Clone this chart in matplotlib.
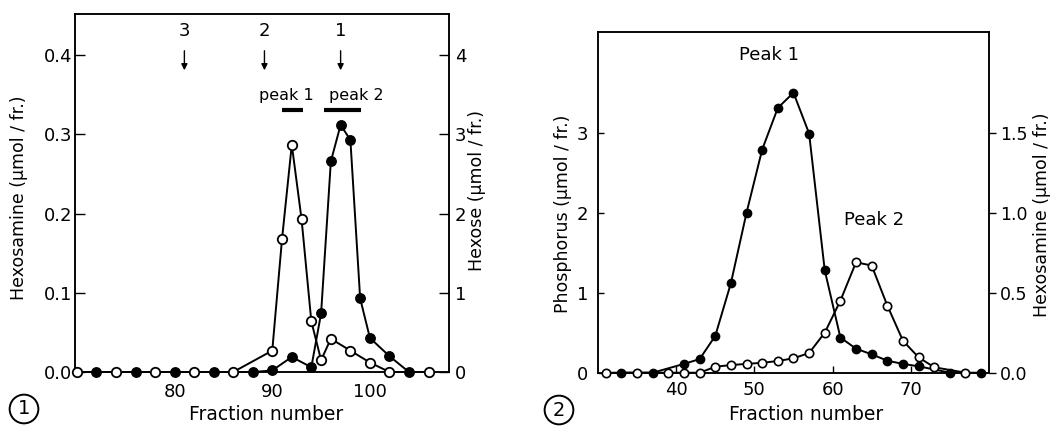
import matplotlib
matplotlib.use("Agg")
import matplotlib.pyplot as plt

plt.rcParams['font.family'] = ['DejaVu Sans']

# ---- Fig. 1 : hexosamine (open) / hexose (filled) ----
f1_open_x = [70, 74, 78, 82, 86, 90, 91, 92, 93, 94, 95, 96, 98, 100, 102, 106]
f1_open_hexosamine = [0, 0, 0, 0, 0, 0.027, 0.168, 0.287, 0.193, 0.064, 0.015,
                      0.042, 0.027, 0.012, 0.0, 0]
f1_filled_x = [72, 76, 80, 84, 88, 90, 92, 94, 95, 96, 97, 98, 99, 100, 102, 104]
f1_filled_hexose = [0, 0, 0, 0, 0, 0.02, 0.19, 0.06, 0.74, 2.66, 3.12, 2.93,
                    0.93, 0.43, 0.2, 0]
f1_markers = ["3", "2", "1"]
f1_marker_x = [81, 89.2, 97]

# ---- Fig. 2 : phosphorus (filled) / hexosamine (open) ----
f2_filled_x = [33, 37, 41, 43, 45, 47, 49, 51, 53, 55, 57, 59, 61, 63, 65, 67,
               69, 71, 75, 79]
f2_filled_phosphorus = [0, 0, 0.11, 0.17, 0.46, 1.12, 2.0, 2.79, 3.31, 3.5,
                        2.99, 1.28, 0.44, 0.3, 0.23, 0.15, 0.11, 0.08, 0, 0]
f2_open_x = [31, 35, 39, 41, 43, 45, 47, 49, 51, 53, 55, 57, 59, 61, 63, 65, 67,
             69, 71, 73, 77]
f2_open_hexosamine = [0, 0, 0, 0, 0, 0.037, 0.048, 0.055, 0.062, 0.073, 0.09,
                      0.123, 0.25, 0.45, 0.69, 0.67, 0.42, 0.2, 0.096, 0.034, 0]

fig = plt.figure(figsize=(10.55, 4.28), dpi=100)

# ---------------- panel 1 ----------------
ax1 = fig.add_axes([0.0711, 0.1308, 0.3545, 0.8364])
ax1r = ax1.twinx()
ax1.set_xlim(69.8, 108.1)
ax1.set_ylim(0, 0.452)
ax1r.set_ylim(0, 4.52)

ms1 = 6.8
ax1r.plot(f1_filled_x, f1_filled_hexose, '-o', color='k', lw=1.4, ms=ms1,
          mfc='k', mec='k', clip_on=False, zorder=3)
ax1.plot(f1_open_x, f1_open_hexosamine, '-o', color='k', lw=1.4, ms=ms1,
         mfc='white', mec='k', mew=1.3, clip_on=False, zorder=4)
ax1.set_zorder(ax1r.get_zorder() + 1)
ax1.patch.set_visible(False)

ax1.set_xticks([80, 90, 100])
ax1.set_yticks([0.0, 0.1, 0.2, 0.3, 0.4])
ax1.set_yticklabels(["0.0", "0.1", "0.2", "0.3", "0.4"])
ax1r.set_yticks([0, 1, 2, 3, 4])
ax1.tick_params(axis='x', length=0, pad=8, labelsize=13)
ax1.tick_params(axis='y', direction='in', length=7, width=1, pad=2, labelsize=13)
ax1r.tick_params(axis='y', direction='in', length=7, width=1, pad=4, labelsize=13)

ax1.set_xlabel("Fraction number", fontsize=13.5, va='center')
ax1.xaxis.set_label_coords(0.51, -0.12)
ax1.set_ylabel("Hexosamine (μmol / fr.)", fontsize=12.5, va='center')
ax1.yaxis.set_label_coords(-0.150, 0.487)
ax1r.set_ylabel("Hexose (μmol / fr.)", fontsize=12.5, va='center')
ax1r.yaxis.set_label_coords(1.075, 0.508)

for lab, x in zip(f1_markers, f1_marker_x):
    ax1.annotate(lab, xy=(x, 0.381), xytext=(x, 0.431), ha='center', va='center',
                 fontsize=13,
                 arrowprops=dict(arrowstyle='-|>', color='k', lw=1,
                                 mutation_scale=9, shrinkA=6, shrinkB=0))

ax1.text(91.4, 0.349, "peak 1", ha='center', va='center', fontsize=11.5)
ax1.text(98.6, 0.349, "peak 2", ha='center', va='center', fontsize=11.5)
ax1.plot([91.0, 93.1], [0.331, 0.331], color='k', lw=3, solid_capstyle='butt')
ax1.plot([95.25, 99.1], [0.331, 0.331], color='k', lw=3, solid_capstyle='butt')

# ---------------- panel 2 ----------------
ax2 = fig.add_axes([0.5668, 0.1292, 0.3706, 0.7953])
ax2r = ax2.twinx()
ax2.set_xlim(30, 80)
ax2.set_ylim(0, 4.255)
ax2r.set_ylim(0, 2.1275)

ms2 = 6.0
ax2.plot(f2_filled_x, f2_filled_phosphorus, '-o', color='k', lw=1.4, ms=ms2,
         mfc='k', mec='k', clip_on=False, zorder=3)
ax2r.plot(f2_open_x, f2_open_hexosamine, '-o', color='k', lw=1.4, ms=ms2,
          mfc='white', mec='k', mew=1.2, clip_on=False, zorder=4)

ax2.set_xticks([40, 50, 60, 70])
ax2.set_yticks([0, 1, 2, 3])
ax2r.set_yticks([0.0, 0.5, 1.0, 1.5])
ax2r.set_yticklabels(["0.0", "0.5", "1.0", "1.5"])
ax2.tick_params(axis='x', direction='in', length=5, width=1, pad=6, labelsize=13)
ax2.tick_params(axis='y', direction='in', length=4, width=1, pad=7, labelsize=13)
ax2r.tick_params(axis='y', direction='out', length=5, width=1, pad=3, labelsize=12.5)

ax2.set_xlabel("Fraction number", fontsize=13.5, va='center')
ax2.xaxis.set_label_coords(0.532, -0.124)
ax2.set_ylabel("Phosphorus (μmol / fr.)", fontsize=12.5, va='center')
ax2.yaxis.set_label_coords(-0.090, 0.466)
ax2r.set_ylabel("Hexosamine (μmol / fr.)", fontsize=12.5, va='center')
ax2r.yaxis.set_label_coords(1.135, 0.463)

ax2.text(51.9, 3.97, "Peak 1", ha='center', va='center', fontsize=13)
ax2.text(65.3, 1.91, "Peak 2", ha='center', va='center', fontsize=13)

for ax in (ax1, ax1r, ax2, ax2r):
    for sp in ax.spines.values():
        sp.set_linewidth(1.1)

# circled panel numbers
circ = dict(boxstyle='circle,pad=0.25', fc='none', ec='k', lw=1.4)
fig.text(24 / 1055, 1 - 409 / 428, "1", ha='center', va='center', fontsize=14,
         bbox=circ)
fig.text(559 / 1055, 1 - 410 / 428, "2", ha='center', va='center', fontsize=14,
         bbox=circ)

fig.savefig("out.png", dpi=100)
